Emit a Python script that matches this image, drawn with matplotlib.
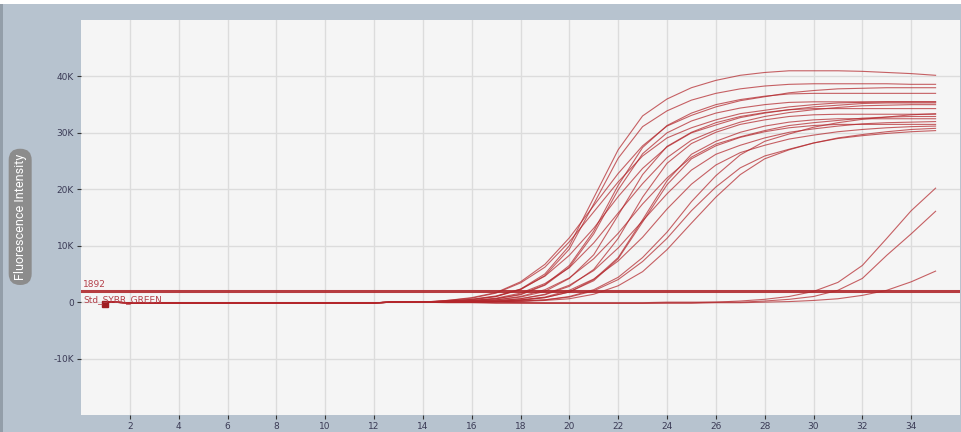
import matplotlib
matplotlib.use('Agg')
import matplotlib.pyplot as plt
from matplotlib.ticker import FuncFormatter
from matplotlib.patches import Rectangle

# amplification curves, fluorescence in thousands
cycles = list(range(1, 36))
baseline = [0.0, -0.1, -0.1, -0.1, -0.1, -0.1, -0.2, -0.2, -0.2, -0.2, -0.1, -0.1, 0.0, 0.0]  # cycles 1-14

# cycles 15-35
c01 = [0.2, 0.5, 1.0, 2.3, 5.0, 10.0, 18.5, 27.0, 33.0, 36.0, 38.0, 39.3, 40.2, 40.7, 41.0, 41.0, 41.0, 40.9, 40.7, 40.5, 40.2]
c02 = [0.2, 0.4, 1.0, 2.2, 4.7, 9.4, 17.4, 25.5, 31.1, 33.9, 35.8, 37.0, 37.8, 38.3, 38.6, 38.7, 38.7, 38.7, 38.7, 38.6, 38.6]
c03 = [0.3, 0.8, 1.7, 3.6, 6.7, 11.4, 17.1, 22.8, 27.7, 31.2, 33.1, 34.6, 35.7, 36.4, 37.1, 37.5, 37.8, 37.9, 38.0, 38.0, 38.0]
c04 = [0.1, 0.3, 0.6, 1.4, 3.1, 6.5, 12.6, 20.7, 27.4, 31.3, 33.5, 35.0, 35.9, 36.5, 36.9, 37.0, 37.0, 37.0, 37.0, 37.0, 37.0]
c05 = [0.3, 0.7, 1.6, 3.4, 6.2, 10.7, 16.0, 21.3, 25.9, 29.1, 30.9, 32.3, 33.4, 34.0, 34.6, 35.0, 35.3, 35.4, 35.5, 35.5, 35.5]
c06 = [0.1, 0.2, 0.6, 1.3, 3.0, 6.2, 12.1, 19.9, 26.3, 30.0, 32.1, 33.5, 34.4, 35.0, 35.4, 35.5, 35.5, 35.5, 35.5, 35.5, 35.5]
c07 = [0.2, 0.5, 1.1, 2.3, 4.6, 8.3, 13.1, 18.7, 23.7, 27.5, 30.0, 31.4, 32.7, 33.5, 34.1, 34.6, 34.9, 35.2, 35.3, 35.3, 35.3]
c08 = [0.1, 0.1, 0.4, 0.9, 1.9, 4.2, 8.4, 15.4, 22.6, 27.6, 30.1, 31.8, 32.9, 33.6, 34.1, 34.3, 34.3, 34.3, 34.3, 34.3, 34.3]
c09 = [0.1, 0.3, 0.7, 1.6, 3.3, 6.1, 10.5, 15.8, 21.0, 25.6, 28.7, 30.5, 31.9, 32.9, 33.6, 34.1, 34.5, 34.8, 34.9, 35.0, 35.0]
c10 = [0.0, 0.1, 0.2, 0.6, 1.3, 2.8, 5.8, 11.3, 18.6, 24.6, 28.1, 30.1, 31.5, 32.3, 32.9, 33.2, 33.3, 33.3, 33.3, 33.3, 33.3]
c11 = [0.1, 0.2, 0.4, 1.0, 2.2, 4.3, 7.7, 12.2, 17.4, 22.0, 25.7, 28.0, 29.3, 30.4, 31.3, 31.8, 32.2, 32.6, 32.8, 32.9, 32.9]
c12 = [0.0, 0.1, 0.1, 0.4, 0.8, 1.8, 4.0, 7.9, 14.6, 21.5, 26.2, 28.5, 30.1, 31.2, 31.9, 32.3, 32.5, 32.5, 32.5, 32.5, 32.5]
c13 = [0.1, 0.1, 0.3, 0.6, 1.4, 3.0, 5.6, 9.6, 14.4, 19.2, 23.4, 26.2, 27.8, 29.1, 30.1, 30.7, 31.2, 31.6, 31.8, 31.9, 32.0]
c14 = [0.0, 0.1, 0.1, 0.3, 0.8, 1.8, 3.8, 7.7, 14.2, 20.8, 25.4, 27.7, 29.2, 30.2, 30.9, 31.3, 31.5, 31.5, 31.5, 31.5, 31.5]
c15 = [0.0, 0.1, 0.2, 0.4, 0.9, 2.1, 4.1, 7.3, 11.5, 16.5, 20.9, 24.3, 26.5, 27.8, 28.9, 29.6, 30.2, 30.6, 30.9, 31.1, 31.2]
c16 = [0.0, 0.0, 0.1, 0.2, 0.4, 1.0, 2.2, 4.4, 7.9, 12.4, 17.8, 22.4, 26.1, 28.5, 29.8, 31.0, 31.8, 32.4, 32.8, 33.2, 33.4]
c17 = [0.0, 0.0, 0.1, 0.1, 0.3, 0.6, 1.4, 2.9, 5.4, 9.3, 14.0, 18.6, 22.6, 25.4, 27.0, 28.2, 29.1, 29.7, 30.2, 30.6, 30.8]
c18 = [0.0, 0.0, 0.1, 0.2, 0.4, 0.9, 2.0, 4.0, 7.2, 11.3, 16.2, 20.4, 23.8, 25.9, 27.1, 28.2, 29.0, 29.5, 29.9, 30.2, 30.4]
late1 = [0.0, 0.0, 0.0, -0.1, -0.1, -0.1, -0.1, -0.1, -0.1, 0.0, 0.0, 0.0, 0.2, 0.5, 1.0, 1.9, 3.5, 6.5, 11.3, 16.2, 20.2]
late2 = [0.0, 0.0, -0.1, -0.1, -0.2, -0.2, -0.2, -0.2, -0.2, -0.1, -0.1, 0.0, 0.0, 0.2, 0.5, 1.0, 2.1, 4.2, 8.3, 12.1, 16.1]
late3 = [-0.1, -0.1, -0.2, -0.2, -0.2, -0.2, -0.2, -0.2, -0.2, -0.2, -0.2, -0.1, -0.1, 0.0, 0.1, 0.3, 0.6, 1.2, 2.1, 3.6, 5.5]

curves = [c01, c02, c03, c04, c05, c06, c07, c08, c09, c10, c11, c12,
          c13, c14, c15, c16, c17, c18, late1, late2, late3]

threshold = 1892
threshold_label = '1892'
dye_label = 'Std_SYBR_GREEN'

fig = plt.figure(figsize=(9.61, 4.32), dpi=100, facecolor='#b7c3cf')
fig.patches.append(Rectangle((0, 1 - 4 / 432), 1, 4 / 432, transform=fig.transFigure,
                             facecolor='white', edgecolor='none'))
fig.patches.append(Rectangle((0, 0), 3 / 961, 1 - 4 / 432, transform=fig.transFigure,
                             facecolor='#939ea9', edgecolor='none'))

ax = fig.add_axes([81 / 961, 17 / 432, 879 / 961, 395 / 432])
ax.set_facecolor('#f5f5f5')
for s in ax.spines.values():
    s.set_visible(False)

red = '#b3262b'
for vals in curves:
    y = [v * 1000 for v in baseline + vals]
    ax.plot(cycles, y, color=red, lw=0.8, alpha=0.72)

ax.plot(cycles[:1], [baseline[0] * 1000 - 300], 's', ms=4, color='#a01e22')

ax.axhline(threshold, color='#b0282c', lw=2.2, alpha=0.9)
ax.text(0.1, threshold + 500, threshold_label, fontsize=6.5, color='#b5404a',
        ha='left', va='bottom')
ax.text(0.1, threshold - 600, dye_label, fontsize=6.5, color='#b5404a',
        ha='left', va='top')

ax.set_xlim(0, 36)
ax.set_ylim(-20000, 50000)
ax.set_xticks(range(2, 36, 2))
ax.set_yticks(range(-10000, 50000, 10000))
ax.yaxis.set_major_formatter(FuncFormatter(lambda v, p: '0' if v == 0 else '%dK' % (v / 1000)))
ax.grid(color='#dcdcdc', lw=1)
ax.set_axisbelow(True)
ax.tick_params(direction='out', length=3, width=0.8, color='#333333',
               labelsize=6.5, labelcolor='#3a3a55', pad=2)

fig.text(0.021, 0.498, 'Fluorescence Intensity', rotation=90, color='white',
         fontsize=9, family='Roboto', ha='center', va='center',
         bbox=dict(boxstyle='round,pad=0.4,rounding_size=0.9', fc='#8c8c8c', ec='none'))

fig.savefig('out.png', dpi=100, facecolor=fig.get_facecolor())
